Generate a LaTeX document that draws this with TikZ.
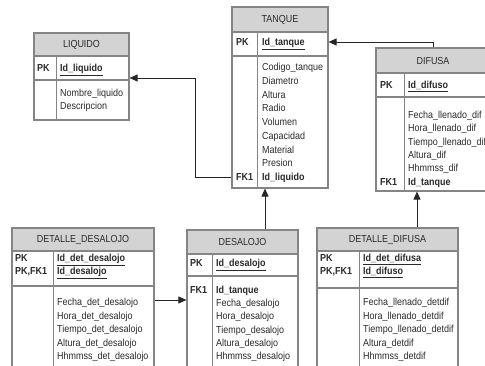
\documentclass[tikz,border=0pt]{standalone}
\usepackage{fontspec}
\setmainfont{Liberation Sans}[FakeStretch=0.88]
\usetikzlibrary{arrows.meta,fit}
\definecolor{hdrgray}{HTML}{D3D3D3}
\definecolor{boxgray}{HTML}{858585}
\definecolor{txt}{HTML}{2A2A2A}
\begin{document}
\begin{tikzpicture}[x=1pt,y=-1pt, font=\fontsize{10.2}{12}\selectfont,
  hdr/.style={draw=boxgray, fill=hdrgray, line width=1.2pt, inner sep=0pt},
  sect/.style={draw=boxgray, fill=white, line width=1.2pt, inner sep=0pt},
  col/.style={draw=boxgray, line width=0.8pt},
  lbl/.style={anchor=base west, inner sep=0pt, text=txt},
  keylbl/.style={lbl, font=\fontsize{10.2}{12}\selectfont\bfseries},
  ttl/.style={inner sep=0pt, text=txt},
  rel/.style={draw=black!85, line width=0.9pt},
  arr/.style={rel, -{Triangle[length=8pt,width=7pt]}}
]
\useasboundingbox (0,0) rectangle (485,366);
\clip (0,0) rectangle (485,366);
\fill[white] (0,0) rectangle (485,366);

% ---------- LIQUIDO ----------
\node[hdr, fit={(34,33) (129,56)}] (liqH) {};
\node[ttl] (liqT) at (liqH.center) {LIQUIDO};
\node[sect, fit={(34,56) (129,80)}] (liqK) {};
\node[sect, fit={(34,80) (129,120)}] (liqB) {};
\draw[col] (56,56) -- (56,120);
\node[keylbl] (liqPK) at (37,71.6) {PK};
\node[keylbl] (liqPKf) at (60,71.6) {\underline{Id\_liquido}};
\foreach \t [count=\i from 0] in {Nombre\_liquido, Descripcion}
  \node[lbl] (liqF\i) at (60,{93+13.2*\i+3.6}) {\t};

% ---------- TANQUE ----------
\node[hdr, fit={(232,7) (328,32)}] (tqH) {};
\node[ttl] (tqT) at (tqH.center) {TANQUE};
\node[sect, fit={(232,32) (328,56)}] (tqK) {};
\node[sect, fit={(232,56) (328,188)}] (tqB) {};
\draw[col] (257,32) -- (257,188);
\node[keylbl] (tqPK) at (236,45.6) {PK};
\node[keylbl] (tqPKf) at (262,45.6) {\underline{Id\_tanque}};
\foreach \t [count=\i from 0] in {Codigo\_tanque, Diametro, Altura, Radio, Volumen, Capacidad, Material, Presion}
  \node[lbl] (tqF\i) at (262,{67+13.75*\i+3.6}) {\t};
\node[keylbl] (tqFK) at (236,180.6) {FK1};
\node[keylbl] (tqFKf) at (262,180.6) {Id\_liquido};

% ---------- DIFUSA ----------
\node[hdr, fit={(376,48) (490,73)}] (difH) {};
\node[ttl] (difT) at (difH.center) {DIFUSA};
\node[sect, fit={(376,73) (490,97)}] (difK) {};
\node[sect, fit={(376,97) (490,191)}] (difB) {};
\draw[col] (404,73) -- (404,191);
\node[keylbl] (difPK) at (380,88.6) {PK};
\node[keylbl] (difPKf) at (408,88.6) {\underline{Id\_difuso}};
\foreach \t [count=\i from 0] in {Fecha\_llenado\_dif, Hora\_llenado\_dif, Tiempo\_llenado\_dif, Altura\_dif, Hhmmss\_dif}
  \node[lbl] (difF\i) at (408,{115+13.3*\i+3.6}) {\t};
\node[keylbl] (difFK) at (380,185.1) {FK1};
\node[keylbl] (difFKf) at (408,185.1) {Id\_tanque};

% ---------- DETALLE_DESALOJO ----------
\node[hdr, fit={(12,228) (154,251)}] (ddsH) {};
\node[ttl] (ddsT) at (ddsH.center) {DETALLE\_DESALOJO};
\node[sect, fit={(12,251) (154,286)}] (ddsK) {};
\node[sect, fit={(12,286) (154,372)}] (ddsB) {};
\draw[col] (53,251) -- (53,372);
\node[keylbl] (ddsPK1) at (15,261.6) {PK};
\node[keylbl] (ddsPK2) at (15,274.6) {PK,FK1};
\node[keylbl] (ddsPK1f) at (57,261.6) {\underline{Id\_det\_desalojo}};
\node[keylbl] (ddsPK2f) at (57,274.6) {\underline{Id\_desalojo}};
\foreach \t [count=\i from 0] in {Fecha\_det\_desalojo, Hora\_det\_desalojo, Tiempo\_det\_desalojo, Altura\_det\_desalojo, Hhmmss\_det\_desalojo}
  \node[lbl] (ddsF\i) at (57,{302+13.5*\i+3.6}) {\t};

% ---------- DESALOJO ----------
\node[hdr, fit={(187,230) (298,254)}] (desH) {};
\node[ttl] (desT) at (desH.center) {DESALOJO};
\node[sect, fit={(187,254) (298,276)}] (desK) {};
\node[sect, fit={(187,276) (298,372)}] (desB) {};
\draw[col] (212,254) -- (212,372);
\node[keylbl] (desPK) at (190,266.6) {PK};
\node[keylbl] (desPKf) at (216,266.6) {\underline{Id\_desalojo}};
\node[keylbl] (desFK) at (190,293.1) {FK1};
\node[keylbl] (desFKf) at (216,293.1) {Id\_tanque};
\foreach \t [count=\i from 0] in {Fecha\_desalojo, Hora\_desalojo, Tiempo\_desalojo, Altura\_desalojo, Hhmmss\_desalojo}
  \node[lbl] (desF\i) at (216,{303+13.3*\i+3.6}) {\t};

% ---------- DETALLE_DIFUSA ----------
\node[hdr, fit={(317,228) (458,251)}] (ddfH) {};
\node[ttl] (ddfT) at (ddfH.center) {DETALLE\_DIFUSA};
\node[sect, fit={(317,251) (458,288)}] (ddfK) {};
\node[sect, fit={(317,288) (458,372)}] (ddfB) {};
\draw[col] (359,251) -- (359,372);
\node[keylbl] (ddfPK1) at (320,261.6) {PK};
\node[keylbl] (ddfPK2) at (320,274.6) {PK,FK1};
\node[keylbl] (ddfPK1f) at (363,261.6) {\underline{Id\_det\_difusa}};
\node[keylbl] (ddfPK2f) at (363,274.6) {\underline{Id\_difuso}};
\foreach \t [count=\i from 0] in {Fecha\_llenado\_detdif, Hora\_llenado\_detdif, Tiempo\_llenado\_detdif, Altura\_detdif, Hhmmss\_detdif}
  \node[lbl] (ddfF\i) at (363,{302+13.5*\i+3.6}) {\t};

% ---------- relationships ----------
\coordinate (j1) at (195,177);
\coordinate (j2) at (195,78);
\draw[arr] (j1 -| tqB.west) -- (j1) -- (j2) -- (j2 -| liqK.east);

\coordinate (j3) at (433,42);
\draw[arr] (j3 |- difH.north) -- (j3) -- (j3 -| tqK.east);

\coordinate (j4) at (265,0);
\draw[arr] (j4 |- desH.north) -- (j4 |- tqB.south);

\coordinate (j5) at (417,0);
\draw[arr] (j5 |- ddfH.north) -- (j5 |- difB.south);

\coordinate (j6) at (0,300);
\draw[arr] (j6 -| ddsB.east) -- (j6 -| desB.west);
\end{tikzpicture}
\end{document}
